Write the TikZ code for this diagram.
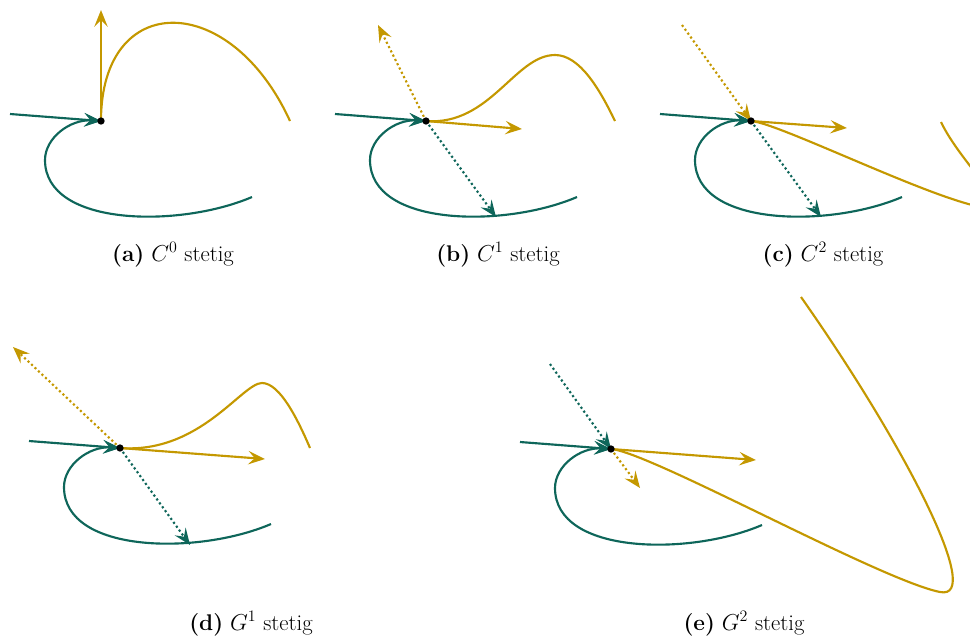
\documentclass[tikz,border=0pt]{standalone}
\usetikzlibrary{arrows.meta}
\definecolor{tealc}{RGB}{14,102,90}
\definecolor{goldc}{RGB}{196,152,0}
\tikzset{
  curve/.style={line width=1.6pt},
  tipend/.style={-{Stealth[length=12.5pt,width=10pt,inset=4.8pt]}},
  vec/.style={curve, tipend},
  dvec/.style={curve, tipend, dotted},
  pt/.style={circle, fill=black, inner sep=0pt, minimum size=5.5pt},
  captext/.style={font=\fontsize{17}{20}\selectfont, anchor=base, inner sep=0pt},
}
\newcommand\greenloop[1]{%
  \coordinate (#1L0) at (-91,-7);
  \coordinate (#1E) at (151,76);
  \coordinate (#1L) at (-56,39);
  \draw[curve, tealc, tipend] (#1E) .. controls (79,107) and (-56,106) .. (#1L) .. controls (-56,17) and (-31,-2) .. (#1P);
  \draw[vec, tealc] (#1L0) -- (#1P);
}
\begin{document}
\begin{tikzpicture}[x=0.75pt,y=-0.75pt]
\useasboundingbox (0,0) rectangle (970,640);
\clip (0,0) rectangle (970,640);

% (a)
\begin{scope}[shift={(101,121)}]
  \coordinate (aP) at (0,0);
  \coordinate (aT) at (0,-111);
  \coordinate (aEnd) at (189,0);
  \draw[curve, goldc] (aP) .. controls (0,-131) and (129,-131) .. (aEnd);
  \greenloop{a}
  \draw[vec, goldc] (aP) -- (aT);
  \node[pt] (aDot) at (aP) {};
\end{scope}

% (b)
\begin{scope}[shift={(426,121)}]
  \coordinate (bP) at (0,0);
  \coordinate (bPeak) at (129,-66);
  \coordinate (bEnd) at (189,0);
  \coordinate (bT) at (96,8);
  \coordinate (bA) at (-48,-96);
  \coordinate (bG) at (70,96);
  \draw[curve, goldc] (bP) .. controls (64,5) and (89,-66) .. (bPeak) .. controls (154,-66) and (174,-31) .. (bEnd);
  \greenloop{b}
  \draw[dvec, tealc] (bP) -- (bG);
  \draw[vec, goldc] (bP) -- (bT);
  \draw[dvec, goldc] (bP) -- (bA);
  \node[pt] (bDot) at (bP) {};
\end{scope}

% (c)
\begin{scope}[shift={(751,121)}]
  \coordinate (cP) at (0,0);
  \coordinate (cB) at (239,87);
  \coordinate (cEnd) at (190,1);
  \coordinate (cT) at (96,7);
  \coordinate (cA) at (-69,-96);
  \coordinate (cG) at (70,96);
  \draw[curve, goldc] (cP) .. controls (29,2) and (196,86) .. (cB) .. controls (262,88) and (209,41) .. (cEnd);
  \greenloop{c}
  \draw[dvec, tealc] (cP) -- (cG);
  \draw[vec, goldc] (cP) -- (cT);
  \draw[dvec, goldc] (cA) -- (cP);
  \node[pt] (cDot) at (cP) {};
\end{scope}

% (d)
\begin{scope}[shift={(120,448)}]
  \coordinate (dP) at (0,0);
  \coordinate (dPeak) at (142,-65);
  \coordinate (dEnd) at (190,0);
  \coordinate (dT) at (145,11);
  \coordinate (dA) at (-107,-101);
  \coordinate (dG) at (70,97);
  \draw[curve, goldc] (dP) .. controls (80,6) and (122,-65) .. (dPeak) .. controls (160,-65) and (178,-28) .. (dEnd);
  \greenloop{d}
  \draw[dvec, tealc] (dP) -- (dG);
  \draw[vec, goldc] (dP) -- (dT);
  \draw[dvec, goldc] (dP) -- (dA);
  \node[pt] (dDot) at (dP) {};
\end{scope}

% (e)
\begin{scope}[shift={(611,449)}]
  \coordinate (eP) at (0,0);
  \coordinate (eB) at (329,143);
  \coordinate (eEnd) at (190,-152);
  \coordinate (eT) at (145,11);
  \coordinate (eA) at (29,39);
  \coordinate (eG) at (-61,-85);
  \draw[curve, goldc] (eP) .. controls (39,3) and (269,131) .. (eB) .. controls (374,152) and (294,-4) .. (eEnd);
  \greenloop{e}
  \draw[dvec, tealc] (eG) -- (eP);
  \draw[vec, goldc] (eP) -- (eT);
  \draw[dvec, goldc] (eP) -- (eA);
  \node[pt] (eDot) at (eP) {};
\end{scope}

% captions
\node[captext] (capa) at (173,261) {\textbf{(a)} $C^0$ stetig};
\node[captext] (capb) at (498,261) {\textbf{(b)} $C^1$ stetig};
\node[captext] (capc) at (823,261) {\textbf{(c)} $C^2$ stetig};
\node[captext] (capd) at (251,630) {\textbf{(d)} $G^1$ stetig};
\node[captext] (cape) at (744,630) {\textbf{(e)} $G^2$ stetig};
\end{tikzpicture}
\end{document}
